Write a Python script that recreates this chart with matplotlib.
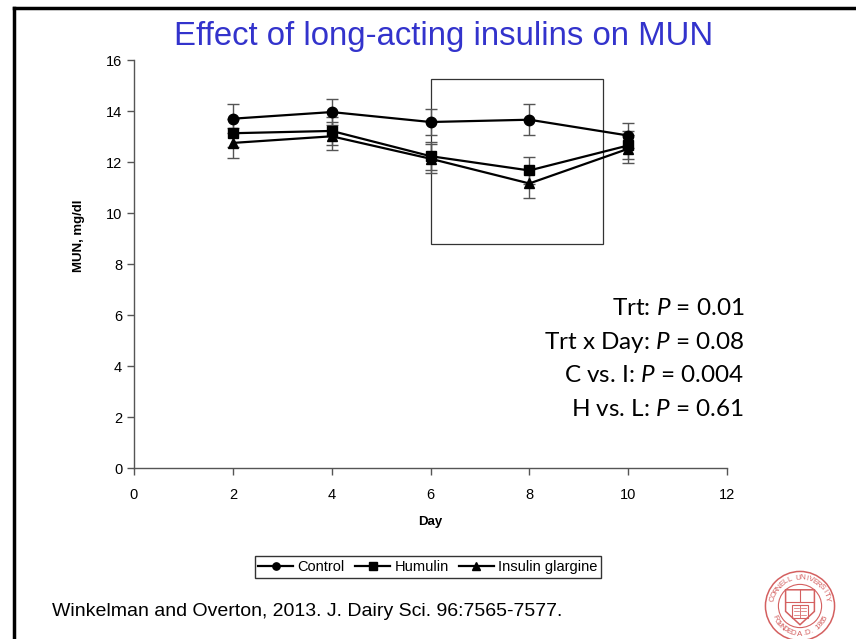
import numpy as np
import matplotlib.pyplot as plt
from matplotlib.patches import Rectangle, Circle, Polygon
from matplotlib.lines import Line2D

plt.rcParams['font.family'] = ['Liberation Sans', 'DejaVu Sans']

# data
days = [2, 4, 6, 8, 10]
control = [13.71, 13.97, 13.58, 13.67, 13.05]
humulin = [13.14, 13.23, 12.24, 11.68, 12.66]
glargine = [12.76, 13.02, 12.14, 11.17, 12.53]
control_se = [0.56, 0.51, 0.50, 0.60, 0.50]
humulin_se = [0.55, 0.55, 0.55, 0.54, 0.55]
glargine_se = [0.59, 0.55, 0.57, 0.57, 0.55]

series = [
    ("Control", control, control_se, "o"),
    ("Humulin", humulin, humulin_se, "s"),
    ("Insulin glargine", glargine, glargine_se, "^"),
]

stats_lines = ["Trt: $\\mathit{P}$ = 0.01", "Trt x Day: $\\mathit{P}$ = 0.08",
               "C vs. I: $\\mathit{P}$ = 0.004", "H vs. L: $\\mathit{P}$ = 0.61"]

W, H = 856, 639
fig = plt.figure(figsize=(W/100, H/100), dpi=100)
plt.rcParams['mathtext.fontset'] = 'custom'
plt.rcParams['mathtext.it'] = 'Lato:italic'
plt.rcParams['mathtext.rm'] = 'Lato'

# slide frame (top and left edges visible)
fig.add_artist(Line2D([14/W, 1], [1 - 8/H, 1 - 8/H], color='black', lw=2.5))
fig.add_artist(Line2D([14/W, 14/W], [0, 1 - 8/H], color='black', lw=2.5))

ax = fig.add_axes([134/W, 1 - 468.3/H, 593/W, 408/H])

for name, y, se, m in series:
    ax.errorbar(days, y, yerr=se, fmt='none', ecolor='#555555', elinewidth=1,
                capsize=4, capthick=1, zorder=2)
    ax.plot(days, y, marker=m, color='black', lw=1.6, markersize=7.5, label=name, zorder=3)

ax.add_patch(Rectangle((6.0, 8.8), 3.5, 6.48, fill=False, edgecolor='#333333', lw=0.9,
                       clip_on=False, zorder=1))

ax.set_xlim(0, 12)
ax.set_ylim(0, 16)
ax.set_xticks(np.arange(0, 13, 2))
ax.set_yticks(np.arange(0, 17, 2))
for s in ['top', 'right']:
    ax.spines[s].set_visible(False)
for s in ['left', 'bottom']:
    ax.spines[s].set_color('#555555')
    ax.spines[s].set_linewidth(1)
ax.tick_params(direction='out', length=5, width=1, color='#555555', labelsize=10.5)
ax.tick_params(axis='x', pad=9)
ax.set_xlabel('Day', fontweight='bold', fontsize=9.5, labelpad=10)
ax.set_ylabel('MUN, mg/dl', fontweight='bold', fontsize=9.5)
ax.yaxis.set_label_coords(-0.083, 0.57)

for i, line in enumerate(stats_lines):
    fig.text(744/W, 1 - (315 + 33.7*i)/H, line, ha='right', va='baseline',
             fontsize=17.5, family=['Lato', 'DejaVu Sans'])

ax.legend(loc='center', bbox_to_anchor=(428/W, 1 - 567/H), bbox_transform=fig.transFigure,
          ncol=3, frameon=True, fancybox=False, edgecolor='black', fontsize=10.5,
          handlelength=2.4, columnspacing=0.7, handletextpad=0.3, borderpad=0.25,
          markerscale=0.7)

fig.text(444/W, 1 - 36/H, "Effect of long-acting insulins on MUN", color='#3333CC',
         fontsize=23.7, ha='center', va='center')
fig.text(52/W, 1 - 611/H, "Winkelman and Overton, 2013. J. Dairy Sci. 96:7565-7577.",
         fontsize=14, ha='left', va='center')

# simple seal in the corner
lax = fig.add_axes([(800 - 36)/W, 1 - (606 + 36)/H, 72/W, 72/H])
lax.set_xlim(-1, 1)
lax.set_ylim(-1, 1)
lax.axis('off')
seal = '#D46060'
lax.add_patch(Circle((0, 0), 0.96, fill=False, edgecolor=seal, lw=1.1))
lax.add_patch(Circle((0, 0), 0.6, fill=False, edgecolor=seal, lw=0.8))
lax.add_patch(Polygon([[-0.4, 0.45], [0.4, 0.45], [0.4, -0.15], [0, -0.52], [-0.4, -0.15]],
                      closed=True, fill=False, edgecolor=seal, lw=1.1))
lax.plot([-0.4, 0.4], [0.12, 0.12], color=seal, lw=0.8)
lax.plot([0, 0], [0.45, 0.12], color=seal, lw=0.8)
lax.add_patch(Rectangle((-0.22, -0.34), 0.44, 0.36, fill=False, edgecolor=seal, lw=0.8))
lax.plot([0, 0], [-0.34, 0.02], color=seal, lw=0.6)
for yy in [-0.24, -0.15, -0.06]:
    lax.plot([-0.17, -0.04], [yy, yy], color=seal, lw=0.5)
    lax.plot([0.04, 0.17], [yy, yy], color=seal, lw=0.5)
top_txt = "CORNELL UNIVERSITY"
ang = np.linspace(165, 15, len(top_txt))
for ch, a in zip(top_txt, ang):
    r = np.radians(a)
    lax.text(0.78*np.cos(r), 0.78*np.sin(r), ch, rotation=a - 90, ha='center', va='center',
             fontsize=5.8, color=seal)
bot_txt = "FOUNDED A.D. 1865"
ang = np.linspace(205, 335, len(bot_txt))
for ch, a in zip(bot_txt, ang):
    r = np.radians(a)
    lax.text(0.78*np.cos(r), 0.78*np.sin(r), ch, rotation=a + 90, ha='center', va='center',
             fontsize=5.8, color=seal)

fig.savefig('out.png', dpi=100)
